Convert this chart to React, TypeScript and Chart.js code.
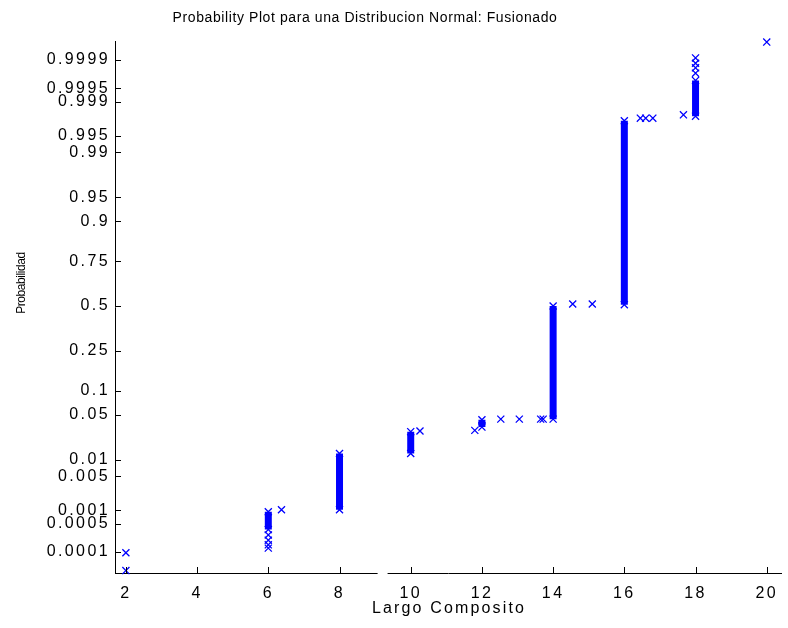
import React, { useEffect, useRef } from 'react';
import { Chart, registerables } from 'chart.js';

Chart.register(...registerables);

const chartTitle = 'Probability Plot para una Distribucion Normal: Fusionado';
const xAxisTitle = 'Largo Composito';
const yAxisTitle = 'Probabilidad';

const xTickValues = [2, 4, 6, 8, 10, 12, 14, 16, 18, 20];
const probabilityTicks = [0.0001, 0.0005, 0.001, 0.005, 0.01, 0.05, 0.1, 0.25, 0.5, 0.75, 0.9, 0.95, 0.99, 0.995, 0.999, 0.9995, 0.9999];
const probabilityLabels = ['0.0001', '0.0005', '0.001', '0.005', '0.01', '0.05', '0.1', '0.25', '0.5', '0.75', '0.9', '0.95', '0.99', '0.995', '0.999', '0.9995', '0.9999'];

// Dense stacks of markers: x value with lowest and highest normal quantile (z)
const stackX = [6, 8, 10, 12, 14, 16, 18];
const stackLowZ = [-3.38, -3.08, -2.23, -1.83, -1.71, 0.02, 2.87];
const stackHighZ = [-3.11, -2.23, -1.9, -1.72, 0.0, 2.8, 3.41];

// Isolated markers: x value and normal quantile (z)
const singleX = [2, 2, 6, 6, 6, 6, 6.37, 10.26, 11.8, 12.53, 13.05, 13.65, 13.72, 14.55, 15.1, 16.45, 16.6, 16.8, 17.66, 18, 18, 18, 18, 20];
const singleZ = [-4.0, -3.73, -3.46, -3.54, -3.61, -3.66, -3.08, -1.89, -1.88, -1.71, -1.71, -1.71, -1.71, 0.03, 0.03, 2.84, 2.84, 2.84, 2.89, 3.52, 3.6, 3.67, 3.75, 3.99];

const X_MIN = 1.694;
const X_MAX = 20.42;
const Z_MIN = -4.036;
const Z_MAX = 4.006;

const BLUE = '#0000ff';
const FONT = '"Liberation Sans", Arial, sans-serif';

function normInv(p: number): number {
  const a = [-3.969683028665376e1, 2.209460984245205e2, -2.759285104469687e2, 1.38357751867269e2, -3.066479806614716e1, 2.506628277459239];
  const b = [-5.447609879822406e1, 1.615858368580409e2, -1.556989798598866e2, 6.680131188771972e1, -1.328068155288572e1];
  const c = [-7.784894002430293e-3, -3.223964580411365e-1, -2.400758277161838, -2.549732539343734, 4.374664141464968, 2.938163982698783];
  const d = [7.784695709041462e-3, 3.224671290700398e-1, 2.445134137142996, 3.754408661907416];
  const pl = 0.02425;
  if (p < pl) {
    const q = Math.sqrt(-2 * Math.log(p));
    return (((((c[0] * q + c[1]) * q + c[2]) * q + c[3]) * q + c[4]) * q + c[5]) / ((((d[0] * q + d[1]) * q + d[2]) * q + d[3]) * q + 1);
  }
  if (p > 1 - pl) {
    const q = Math.sqrt(-2 * Math.log(1 - p));
    return -(((((c[0] * q + c[1]) * q + c[2]) * q + c[3]) * q + c[4]) * q + c[5]) / ((((d[0] * q + d[1]) * q + d[2]) * q + d[3]) * q + 1);
  }
  const q = p - 0.5;
  const r = q * q;
  return ((((((a[0] * r + a[1]) * r + a[2]) * r + a[3]) * r + a[4]) * r + a[5]) * q) / (((((b[0] * r + b[1]) * r + b[2]) * r + b[3]) * r + b[4]) * r + 1);
}

function fitText(ctx: CanvasRenderingContext2D, text: string, target: number) {
  ctx.letterSpacing = '0px';
  const w = ctx.measureText(text).width;
  const sp = (target - w) / Math.max(1, text.length - 1);
  ctx.letterSpacing = sp.toFixed(2) + 'px';
}

const spacingPlugin = {
  id: 'tickSpacing',
  beforeUpdate(chart: any) {
    chart.ctx.letterSpacing = '2.4px';
  },
  beforeDraw(chart: any) {
    chart.ctx.letterSpacing = '2.4px';
  },
};

const decorPlugin = {
  id: 'decor',
  afterDraw(chart: any) {
    const ctx: CanvasRenderingContext2D = chart.ctx;
    const { left, bottom } = chart.chartArea;
    const xs = chart.scales.x;
    const ys = chart.scales.y;
    ctx.save();
    ctx.letterSpacing = '0px';
    // axis break on x axis
    const g0 = xs.getPixelForValue(9.07);
    const g1 = xs.getPixelForValue(9.35);
    ctx.fillStyle = '#ffffff';
    ctx.fillRect(g0, bottom - 2, g1 - g0, 4);
    // inward tick marks
    ctx.strokeStyle = '#000000';
    ctx.lineWidth = 1;
    ctx.beginPath();
    xs.ticks.forEach((t: any) => {
      const px = Math.round(xs.getPixelForValue(t.value)) + 0.5;
      ctx.moveTo(px, bottom);
      ctx.lineTo(px, bottom - 6);
    });
    ys.ticks.forEach((t: any) => {
      const py = Math.round(ys.getPixelForValue(t.value)) + 0.5;
      ctx.moveTo(left, py);
      ctx.lineTo(left + 6, py);
    });
    ctx.stroke();

    ctx.fillStyle = '#000000';
    ctx.textAlign = 'center';
    ctx.textBaseline = 'middle';
    // title
    ctx.font = `14px ${FONT}`;
    fitText(ctx, chartTitle, 384);
    ctx.fillText(chartTitle, 365, 18);
    // x title
    ctx.font = `16px ${FONT}`;
    fitText(ctx, xAxisTitle, 152);
    ctx.fillText(xAxisTitle, 449, 609);
    // y title
    ctx.save();
    ctx.translate(22, 283);
    ctx.rotate(-Math.PI / 2);
    ctx.font = `12px ${FONT}`;
    fitText(ctx, yAxisTitle, 62);
    ctx.fillText(yAxisTitle, 0, 0);
    ctx.restore();
    ctx.restore();
  },
};

export default function App() {
  const canvasRef = useRef<HTMLCanvasElement | null>(null);

  useEffect(() => {
    if (!canvasRef.current) return;
    const datasets: any[] = stackX.map((x, i) => ({
      data: [
        { x, y: stackLowZ[i] },
        { x, y: stackHighZ[i] },
      ],
      showLine: true,
      borderColor: BLUE,
      borderWidth: 7,
      borderCapStyle: 'butt',
      pointStyle: 'crossRot',
      pointRadius: 5,
      pointBorderColor: BLUE,
      pointBorderWidth: 1.3,
      pointBackgroundColor: BLUE,
      clip: 10,
    }));
    datasets.push({
      data: singleX.map((x, i) => ({ x, y: singleZ[i] })),
      showLine: false,
      pointStyle: 'crossRot',
      pointRadius: 5,
      pointBorderColor: BLUE,
      pointBorderWidth: 1.3,
      pointBackgroundColor: BLUE,
      borderColor: BLUE,
      clip: 10,
    });

    const chart = new Chart(canvasRef.current, {
      type: 'scatter',
      data: { datasets },
      options: {
        animation: false,
        responsive: false,
        devicePixelRatio: 1,
        layout: { padding: { top: 41, left: 0, right: 0, bottom: 0 } },
        plugins: { legend: { display: false }, tooltip: { enabled: false }, title: { display: false } },
        scales: {
          x: {
            type: 'linear',
            min: X_MIN,
            max: X_MAX,
            grid: { display: false },
            border: { display: true, color: '#000000', width: 1 },
            ticks: {
              color: '#000000',
              font: { size: 16, family: FONT },
              padding: 3,
              maxRotation: 0,
              autoSkip: false,
            },
            afterBuildTicks: (s: any) => {
              s.ticks = xTickValues.map((v) => ({ value: v }));
            },
            afterFit: (s: any) => {
              s.height = 55;
            },
          },
          y: {
            type: 'linear',
            min: Z_MIN,
            max: Z_MAX,
            grid: { display: false },
            border: { display: true, color: '#000000', width: 1 },
            ticks: {
              color: '#000000',
              font: { size: 16, family: FONT },
              padding: -3,
              autoSkip: false,
              callback: (_v: any, i: number) => probabilityLabels[i],
            },
            afterBuildTicks: (s: any) => {
              s.ticks = probabilityTicks.map((p) => ({ value: normInv(p) }));
            },
            afterFit: (s: any) => {
              s.width = 115;
            },
          },
        },
      },
      plugins: [spacingPlugin, decorPlugin],
    } as any);
    return () => chart.destroy();
  }, []);

  return (
    <div style={{ position: 'absolute', left: 0, top: 0, width: 788, height: 628, background: '#ffffff' }}>
      <canvas ref={canvasRef} width={788} height={628} style={{ display: 'block', width: 788, height: 628 }} />
    </div>
  );
}
